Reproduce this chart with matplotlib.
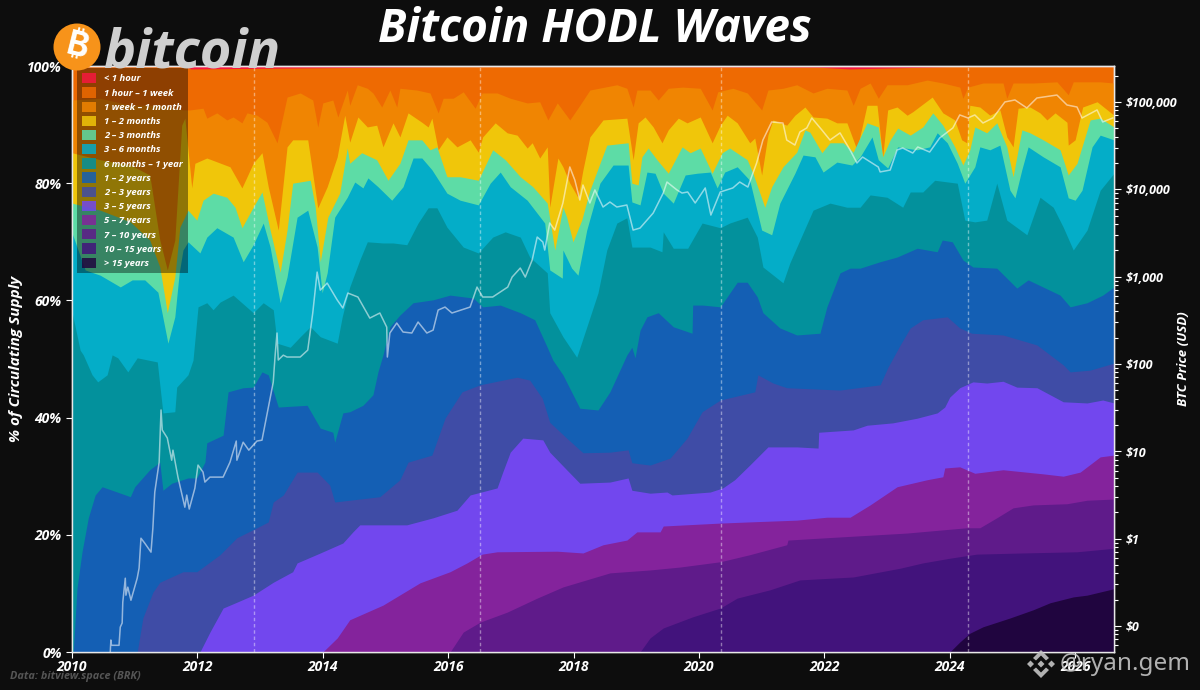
import matplotlib
matplotlib.use('Agg')
import matplotlib.pyplot as plt
from matplotlib.patches import Circle, Patch, Polygon
from matplotlib.ticker import FuncFormatter, LogLocator, NullFormatter

BG = '#0d0d0d'
FONT = 'Open Sans'

# band names and colours, youngest first
band_labels = ['< 1 hour', '1 hour – 1 week', '1 week – 1 month', '1 – 2 months', '2 – 3 months',
               '3 – 6 months', '6 months – 1 year', '1 – 2 years', '2 – 3 years', '3 – 5 years',
               '5 – 7 years', '7 – 10 years', '10 – 15 years', '> 15 years']
band_colors = ['#f5173f', '#ee6a02', '#f08502', '#f0c60a', '#5ddca6', '#04adc8', '#03919c', '#145fb4',
               '#3f4ca6', '#7247ee', '#84239c', '#5f1b8a', '#42137c', '#20053f']

# top edge of each band, as cumulative % of supply, (year, %)
hour_top_x = [2010.00, 2011.80, 2011.90, 2016.00, 2019.00, 2021.90, 2022.40, 2024.00, 2026.62]
hour_top_y = [99.9, 99.9, 99.5, 99.9, 99.9, 99.8, 99.5, 99.9, 99.9]

week_top_x = [2010.00, 2010.45, 2010.93, 2011.40, 2011.77, 2011.88, 2012.09, 2012.15, 2012.31, 2012.47, 2012.57, 2012.71,
              2012.79, 2012.95, 2013.11, 2013.27, 2013.35, 2013.43, 2013.64, 2013.84, 2013.92, 2014.00, 2014.16, 2014.24,
              2014.39, 2014.43, 2014.55, 2014.71, 2014.80, 2014.94, 2015.07, 2015.18, 2015.23, 2015.50, 2015.71, 2015.84,
              2015.92, 2016.08, 2016.24, 2016.43, 2016.54, 2016.78, 2016.99, 2017.26, 2017.46, 2017.59, 2017.74, 2017.94,
              2018.10, 2018.26, 2018.69, 2018.85, 2018.95, 2019.01, 2019.22, 2019.35, 2019.51, 2019.74, 2020.02, 2020.21,
              2020.30, 2020.54, 2020.77, 2021.00, 2021.10, 2021.34, 2021.56, 2021.82, 2022.04, 2022.36, 2022.46, 2022.57,
              2022.73, 2022.86, 2023.00, 2023.32, 2023.64, 2023.89, 2024.16, 2024.21, 2024.29, 2024.53, 2024.85, 2024.91,
              2025.01, 2025.33, 2025.71, 2025.89, 2025.97, 2026.40, 2026.62]
week_top_y = [94.2, 94.5, 93.3, 93.3, 92.5, 92.5, 92.8, 91.1, 92.0, 90.8, 91.3, 90.3,
              92.0, 91.6, 90.4, 86.9, 90.8, 94.7, 95.4, 94.2, 89.6, 93.7, 94.2, 91.3,
              95.9, 93.3, 96.8, 96.2, 95.4, 93.0, 95.9, 93.0, 96.2, 95.9, 95.4, 92.0,
              94.5, 94.5, 95.6, 92.8, 95.4, 95.4, 94.5, 93.7, 93.9, 90.8, 93.7, 90.8,
              93.3, 95.9, 96.8, 96.2, 93.0, 95.9, 95.9, 94.2, 96.2, 96.4, 96.2, 92.5,
              95.6, 96.2, 95.4, 92.5, 95.9, 96.2, 96.8, 95.4, 96.2, 95.9, 93.3, 96.2,
              97.1, 94.5, 96.8, 96.8, 97.6, 97.1, 96.4, 94.5, 96.4, 97.1, 97.1, 94.5,
              97.1, 97.1, 97.3, 95.1, 97.3, 97.3, 97.1]

month_top_x = [2010.00, 2010.45, 2010.93, 2011.24, 2011.40, 2011.52, 2011.64, 2011.75, 2011.80, 2011.91, 2011.96, 2012.15,
               2012.52, 2012.71, 2012.89, 2013.03, 2013.13, 2013.29, 2013.43, 2013.52, 2013.76, 2013.92, 2014.07, 2014.23,
               2014.35, 2014.43, 2014.56, 2014.71, 2014.86, 2014.96, 2015.12, 2015.23, 2015.36, 2015.58, 2015.68, 2015.74,
               2015.84, 2015.98, 2016.14, 2016.35, 2016.48, 2016.55, 2016.75, 2016.94, 2017.10, 2017.26, 2017.34, 2017.46,
               2017.58, 2017.62, 2017.75, 2017.83, 2017.94, 2018.07, 2018.15, 2018.26, 2018.47, 2018.85, 2018.95, 2019.03,
               2019.14, 2019.27, 2019.41, 2019.51, 2019.67, 2019.81, 2020.02, 2020.21, 2020.34, 2020.45, 2020.61, 2020.81,
               2020.89, 2021.00, 2021.10, 2021.18, 2021.40, 2021.53, 2021.69, 2021.82, 2022.04, 2022.20, 2022.36, 2022.52,
               2022.68, 2022.84, 2022.93, 2023.01, 2023.16, 2023.32, 2023.41, 2023.72, 2023.89, 2024.08, 2024.19, 2024.27,
               2024.32, 2024.48, 2024.64, 2024.80, 2024.91, 2025.01, 2025.09, 2025.28, 2025.44, 2025.55, 2025.68, 2025.87,
               2025.89, 2026.00, 2026.12, 2026.35, 2026.62]
month_top_y = [85.2, 84.0, 83.1, 81.4, 70.3, 65.2, 70.3, 89.9, 91.1, 79.2, 83.4, 84.3,
               82.8, 79.2, 83.4, 85.2, 79.4, 72.0, 86.2, 87.4, 87.4, 75.8, 79.4, 84.5,
               91.6, 87.0, 91.3, 89.6, 89.9, 86.2, 90.3, 87.9, 92.0, 90.4, 89.6, 91.1,
               85.7, 87.9, 86.2, 87.4, 85.3, 87.9, 90.3, 88.6, 88.2, 86.0, 86.9, 84.3,
               86.2, 75.9, 84.3, 82.8, 80.0, 77.6, 82.3, 87.9, 90.8, 91.1, 84.0, 90.3,
               91.3, 89.6, 86.9, 89.1, 91.1, 90.3, 91.3, 86.9, 89.9, 91.6, 90.3, 86.9,
               87.7, 81.4, 88.2, 90.8, 89.9, 91.6, 93.0, 91.3, 91.1, 90.3, 90.3, 85.7,
               93.3, 93.3, 84.5, 92.5, 93.0, 91.6, 92.2, 94.7, 92.0, 90.8, 87.4, 86.9,
               93.3, 93.0, 91.6, 92.5, 87.9, 86.2, 92.8, 93.0, 92.0, 90.8, 92.0, 90.4,
               86.5, 87.4, 93.0, 93.9, 91.6]

two_month_top_x = [2010.00, 2010.45, 2010.93, 2011.24, 2011.40, 2011.52, 2011.64, 2011.72, 2011.85, 2011.99, 2012.09, 2012.25,
                   2012.47, 2012.60, 2012.71, 2012.89, 2013.03, 2013.16, 2013.32, 2013.43, 2013.52, 2013.80, 2013.88, 2013.96,
                   2014.08, 2014.27, 2014.39, 2014.43, 2014.62, 2014.86, 2015.04, 2015.23, 2015.36, 2015.58, 2015.71, 2015.82,
                   2015.98, 2016.19, 2016.48, 2016.71, 2016.91, 2017.15, 2017.35, 2017.58, 2017.70, 2017.83, 2017.89, 2017.99,
                   2018.13, 2018.26, 2018.53, 2018.87, 2018.93, 2019.03, 2019.09, 2019.19, 2019.33, 2019.51, 2019.73, 2019.86,
                   2020.02, 2020.21, 2020.37, 2020.49, 2020.77, 2020.86, 2021.05, 2021.16, 2021.34, 2021.56, 2021.69, 2021.77,
                   2021.96, 2022.09, 2022.30, 2022.46, 2022.68, 2022.86, 2022.93, 2023.05, 2023.17, 2023.37, 2023.57, 2023.73,
                   2023.89, 2024.08, 2024.21, 2024.32, 2024.40, 2024.59, 2024.75, 2024.91, 2025.01, 2025.15, 2025.28, 2025.49,
                   2025.76, 2025.89, 2026.03, 2026.24, 2026.40, 2026.62]
two_month_top_y = [76.6, 75.4, 73.4, 70.3, 65.7, 57.9, 64.0, 72.5, 75.4, 73.7, 77.1, 78.3,
                   77.6, 75.9, 72.4, 75.9, 78.5, 72.0, 64.8, 72.0, 80.0, 80.5, 75.9, 66.6,
                   74.2, 78.3, 86.0, 83.4, 85.2, 84.0, 80.5, 83.4, 87.4, 87.4, 85.7, 86.2,
                   81.1, 81.1, 80.5, 85.7, 84.0, 81.1, 79.4, 76.6, 68.6, 75.9, 74.2, 70.0,
                   73.7, 78.8, 86.5, 86.9, 80.0, 79.7, 84.5, 86.0, 84.0, 81.7, 86.2, 85.2,
                   86.0, 81.7, 85.2, 86.0, 84.0, 81.7, 75.9, 79.4, 82.8, 85.3, 89.1, 88.7,
                   85.2, 86.9, 86.9, 85.3, 90.3, 89.6, 84.5, 87.4, 89.4, 88.2, 89.6, 92.0,
                   89.9, 86.2, 83.1, 85.7, 89.6, 88.6, 90.3, 86.2, 81.1, 89.1, 88.6, 87.4,
                   85.7, 81.4, 83.4, 90.8, 91.1, 89.6]

three_month_top_x = [2010.00, 2010.21, 2010.45, 2010.77, 2010.96, 2011.16, 2011.37, 2011.53, 2011.64, 2011.71, 2011.77, 2011.85,
                     2012.04, 2012.15, 2012.31, 2012.57, 2012.73, 2012.89, 2013.05, 2013.16, 2013.32, 2013.43, 2013.59, 2013.76,
                     2013.91, 2013.99, 2014.07, 2014.19, 2014.39, 2014.51, 2014.64, 2014.72, 2014.88, 2015.10, 2015.28, 2015.44,
                     2015.58, 2015.74, 2015.98, 2016.19, 2016.48, 2016.67, 2016.83, 2016.99, 2017.26, 2017.54, 2017.62, 2017.82,
                     2017.83, 2017.97, 2018.07, 2018.21, 2018.42, 2018.63, 2018.87, 2018.93, 2019.06, 2019.17, 2019.30, 2019.43,
                     2019.59, 2019.78, 2019.97, 2020.18, 2020.29, 2020.41, 2020.61, 2020.81, 2021.00, 2021.16, 2021.29, 2021.53,
                     2021.66, 2021.85, 2021.98, 2022.20, 2022.44, 2022.57, 2022.76, 2022.86, 2023.01, 2023.17, 2023.48, 2023.68,
                     2023.80, 2023.96, 2024.12, 2024.24, 2024.40, 2024.48, 2024.64, 2024.80, 2024.96, 2025.04, 2025.15, 2025.25,
                     2025.49, 2025.76, 2025.89, 2026.00, 2026.11, 2026.27, 2026.40, 2026.62]
three_month_top_y = [71.5, 65.2, 64.3, 62.3, 63.5, 63.5, 61.4, 52.7, 57.2, 64.7, 68.6, 70.0,
                     68.1, 70.8, 72.4, 70.8, 66.6, 69.5, 73.2, 69.1, 59.6, 64.0, 74.2, 75.4,
                     69.1, 61.3, 64.7, 74.2, 77.6, 80.2, 79.2, 80.9, 79.4, 77.1, 79.4, 84.3,
                     84.3, 82.3, 78.3, 77.1, 76.3, 80.0, 81.9, 79.4, 77.1, 73.2, 65.2, 63.8,
                     68.6, 65.5, 64.3, 72.0, 80.0, 83.1, 83.1, 76.8, 76.3, 81.9, 81.7, 78.3,
                     76.6, 81.4, 81.7, 81.9, 79.2, 81.9, 82.8, 80.5, 72.0, 71.2, 76.6, 81.7,
                     84.8, 84.5, 81.9, 83.6, 83.1, 84.5, 87.9, 84.0, 82.6, 86.2, 85.7, 86.2,
                     88.6, 86.9, 83.4, 80.0, 82.8, 86.2, 85.7, 86.5, 78.8, 77.5, 82.3, 86.2,
                     84.5, 82.8, 77.5, 77.1, 78.8, 86.2, 88.2, 87.4]

six_month_top_x = [2010.00, 2010.13, 2010.18, 2010.32, 2010.41, 2010.56, 2010.64, 2010.73, 2010.89, 2011.04, 2011.36, 2011.45,
                   2011.64, 2011.67, 2011.85, 2011.93, 2012.01, 2012.15, 2012.25, 2012.36, 2012.57, 2012.89, 2013.05, 2013.21,
                   2013.27, 2013.48, 2013.64, 2013.80, 2013.96, 2014.23, 2014.31, 2014.43, 2014.59, 2014.71, 2014.96, 2015.12,
                   2015.34, 2015.52, 2015.68, 2015.82, 2015.98, 2016.24, 2016.48, 2016.71, 2016.91, 2017.15, 2017.30, 2017.58,
                   2017.62, 2017.83, 2018.05, 2018.23, 2018.39, 2018.53, 2018.69, 2018.85, 2018.93, 2019.22, 2019.41, 2019.43,
                   2019.59, 2019.82, 2020.05, 2020.34, 2020.49, 2020.77, 2020.93, 2021.02, 2021.34, 2021.45, 2021.61, 2021.82,
                   2022.09, 2022.36, 2022.57, 2022.73, 2023.00, 2023.25, 2023.37, 2023.57, 2023.76, 2024.12, 2024.24, 2024.40,
                   2024.59, 2024.75, 2024.91, 2025.23, 2025.44, 2025.65, 2025.81, 2025.97, 2026.19, 2026.40, 2026.62]
six_month_top_y = [58.0, 51.5, 50.7, 47.3, 46.1, 47.3, 50.7, 50.2, 47.8, 50.2, 49.5, 40.8,
                   41.0, 45.2, 47.3, 49.8, 58.9, 59.6, 58.4, 59.7, 60.9, 57.9, 59.6, 58.4,
                   52.7, 52.0, 53.8, 55.5, 53.8, 52.7, 57.2, 62.3, 66.9, 70.0, 69.8, 69.8,
                   69.5, 73.2, 75.8, 75.8, 72.5, 69.1, 68.1, 70.8, 71.7, 70.8, 67.4, 64.7,
                   57.9, 53.8, 50.3, 56.1, 61.3, 68.6, 73.2, 74.1, 69.1, 69.1, 68.3, 71.7,
                   68.9, 68.9, 73.2, 72.4, 73.2, 74.2, 70.8, 65.7, 63.0, 66.4, 70.3, 75.4,
                   76.6, 75.9, 75.9, 78.0, 77.6, 75.9, 78.5, 78.5, 80.5, 80.0, 73.7, 73.4,
                   73.7, 80.0, 73.7, 71.2, 77.6, 75.9, 72.5, 68.6, 72.0, 78.8, 81.7]

year_top_x = [2010.02, 2010.08, 2010.16, 2010.26, 2010.37, 2010.48, 2010.72, 2010.93, 2011.00, 2011.24, 2011.40, 2011.45,
              2011.59, 2011.85, 2011.99, 2012.12, 2012.15, 2012.41, 2012.49, 2012.73, 2012.89, 2013.03, 2013.13, 2013.29,
              2013.75, 2013.96, 2014.16, 2014.19, 2014.32, 2014.43, 2014.64, 2014.80, 2014.88, 2014.96, 2015.07, 2015.23,
              2015.44, 2015.76, 2016.03, 2016.40, 2016.55, 2016.83, 2017.15, 2017.38, 2017.58, 2017.67, 2017.83, 2018.10,
              2018.39, 2018.58, 2018.85, 2018.93, 2018.98, 2019.06, 2019.17, 2019.35, 2019.59, 2019.89, 2019.90, 2020.06,
              2020.34, 2020.61, 2020.77, 2020.93, 2021.02, 2021.29, 2021.56, 2021.93, 2022.04, 2022.25, 2022.41, 2022.57,
              2022.89, 2023.16, 2023.48, 2023.80, 2023.88, 2024.04, 2024.21, 2024.37, 2024.75, 2025.07, 2025.25, 2025.76,
              2025.92, 2026.19, 2026.44, 2026.62]
year_top_y = [0.0, 10.9, 17.1, 22.9, 26.8, 28.2, 27.3, 26.5, 28.2, 31.1, 32.4, 27.6,
              28.8, 29.7, 29.7, 32.4, 35.7, 37.0, 44.4, 45.1, 45.2, 47.8, 47.3, 41.8,
              42.1, 38.2, 37.5, 35.8, 40.8, 41.0, 42.1, 43.9, 47.8, 50.7, 55.5, 57.5,
              59.6, 60.1, 60.9, 60.4, 58.9, 59.2, 57.9, 56.7, 52.0, 49.8, 47.3, 41.6,
              41.3, 44.4, 50.7, 52.0, 50.2, 54.9, 57.2, 57.9, 55.5, 54.4, 59.2, 59.2,
              58.9, 63.1, 63.1, 60.6, 57.9, 55.3, 54.1, 54.4, 58.9, 64.7, 65.5, 65.5,
              66.6, 67.4, 68.9, 68.3, 70.3, 70.0, 66.9, 65.7, 65.5, 62.1, 63.5, 60.9,
              58.9, 59.6, 60.9, 62.3]

two_year_top_x = [2011.04, 2011.13, 2011.29, 2011.40, 2011.77, 2011.99, 2012.36, 2012.63, 2012.95, 2013.13, 2013.21, 2013.37,
                  2013.59, 2013.91, 2014.11, 2014.19, 2014.43, 2014.91, 2015.23, 2015.36, 2015.74, 2015.95, 2016.22, 2016.51,
                  2017.10, 2017.30, 2017.50, 2017.62, 2017.89, 2018.15, 2018.58, 2018.87, 2018.93, 2019.22, 2019.54, 2019.81,
                  2020.05, 2020.34, 2020.89, 2020.94, 2021.18, 2021.40, 2022.25, 2022.89, 2023.01, 2023.21, 2023.37, 2023.57,
                  2023.96, 2024.16, 2024.35, 2024.85, 2025.39, 2025.81, 2025.92, 2026.24, 2026.62]
two_year_top_y = [0.0, 5.8, 10.2, 11.9, 13.7, 13.7, 16.6, 19.5, 21.2, 22.2, 25.6, 26.8,
                  30.7, 30.7, 28.5, 25.6, 25.9, 26.5, 29.4, 32.4, 33.6, 39.9, 44.4, 45.6,
                  46.9, 46.4, 43.3, 39.2, 36.5, 34.0, 34.1, 34.5, 32.3, 31.9, 33.1, 36.5,
                  41.0, 43.0, 44.4, 47.3, 45.9, 45.1, 44.7, 45.6, 48.5, 52.4, 55.3, 56.7,
                  57.2, 55.3, 54.4, 54.1, 52.4, 49.0, 47.8, 48.1, 49.3]

three_year_top_x = [2012.04, 2012.20, 2012.41, 2012.63, 2012.89, 2013.21, 2013.52, 2013.59, 2013.96, 2014.32, 2014.48, 2014.59,
                    2015.34, 2015.76, 2016.14, 2016.35, 2016.78, 2016.87, 2016.99, 2017.19, 2017.51, 2017.62, 2017.89, 2018.10,
                    2018.58, 2018.87, 2018.93, 2019.22, 2019.49, 2019.57, 2020.18, 2020.38, 2020.57, 2020.81, 2021.10, 2021.56,
                    2021.90, 2021.91, 2022.46, 2022.68, 2023.09, 2023.48, 2023.80, 2023.92, 2024.00, 2024.16, 2024.37, 2024.59,
                    2024.85, 2025.07, 2025.39, 2025.81, 2026.19, 2026.44, 2026.62]
three_year_top_y = [0.0, 3.4, 7.5, 8.5, 9.7, 11.9, 13.7, 15.2, 16.9, 18.6, 20.5, 21.7,
                    21.7, 22.9, 24.2, 26.8, 28.0, 30.7, 34.1, 36.5, 36.2, 34.1, 31.1, 28.8,
                    29.0, 29.7, 27.6, 27.1, 27.3, 26.8, 27.3, 28.0, 29.4, 31.9, 35.0, 35.0,
                    34.8, 37.5, 37.9, 38.7, 39.1, 39.9, 40.8, 41.8, 43.5, 45.1, 46.1, 45.9,
                    46.2, 45.2, 45.1, 42.7, 42.5, 43.0, 42.5]

five_year_top_x = [2014.00, 2014.23, 2014.43, 2014.96, 2015.55, 2016.03, 2016.30, 2016.54, 2016.78, 2017.74, 2018.15, 2018.47,
                   2018.85, 2019.01, 2019.38, 2019.43, 2020.34, 2020.81, 2021.56, 2022.04, 2022.41, 2022.73, 2023.16, 2023.64,
                   2023.89, 2023.92, 2024.16, 2024.40, 2024.85, 2025.49, 2025.81, 2026.08, 2026.40, 2026.62]
five_year_top_y = [0.0, 2.4, 5.5, 8.0, 11.8, 13.7, 15.2, 16.7, 17.1, 17.2, 16.9, 18.3,
                   19.1, 20.5, 20.5, 21.5, 22.0, 22.2, 22.5, 23.0, 23.0, 25.1, 28.2, 29.4,
                   29.9, 31.4, 31.6, 30.5, 31.1, 30.4, 30.0, 30.7, 33.3, 33.6]

seven_year_top_x = [2016.03, 2016.24, 2016.51, 2016.94, 2017.42, 2017.83, 2018.58, 2019.22, 2019.70, 2020.34, 2020.81, 2021.40,
                    2021.42, 2022.04, 2023.32, 2024.27, 2024.48, 2024.75, 2025.01, 2025.33, 2025.87, 2026.19, 2026.62]
seven_year_top_y = [0.0, 3.4, 5.1, 6.8, 9.2, 11.1, 13.5, 14.0, 14.5, 15.4, 16.6, 18.3,
                    19.1, 19.5, 20.3, 21.2, 21.2, 22.9, 24.6, 25.1, 25.3, 25.9, 26.1]

ten_year_top_x = [2019.06, 2019.22, 2019.43, 2019.90, 2020.34, 2020.61, 2021.13, 2021.61, 2022.46, 2023.21, 2023.57, 2024.00,
                  2024.43, 2025.17, 2026.03, 2026.62]
ten_year_top_y = [0.0, 2.4, 4.1, 6.0, 7.5, 9.2, 10.6, 12.3, 12.8, 14.3, 15.2, 16.0,
                  16.7, 16.9, 17.1, 17.7]

fifteen_year_top_x = [2024.00, 2024.16, 2024.32, 2024.53, 2024.96, 2025.33, 2025.60, 2025.97, 2026.19, 2026.62]
fifteen_year_top_y = [0.0, 1.7, 3.2, 4.3, 5.8, 7.2, 8.4, 9.4, 9.7, 10.8]

# BTC price in USD
price_x = [2010.61, 2010.62, 2010.63, 2010.75, 2010.77, 2010.80, 2010.81, 2010.85, 2010.86, 2010.89, 2010.94, 2011.04,
           2011.07, 2011.10, 2011.16, 2011.26, 2011.29, 2011.32, 2011.39, 2011.42, 2011.44, 2011.52, 2011.59, 2011.61,
           2011.69, 2011.80, 2011.83, 2011.87, 2011.96, 2012.01, 2012.09, 2012.12, 2012.20, 2012.41, 2012.52, 2012.62,
           2012.63, 2012.73, 2012.82, 2012.95, 2013.03, 2013.13, 2013.21, 2013.24, 2013.27, 2013.29, 2013.37, 2013.43,
           2013.64, 2013.76, 2013.84, 2013.91, 2013.96, 2014.07, 2014.23, 2014.32, 2014.40, 2014.56, 2014.75, 2014.91,
           2015.02, 2015.03, 2015.07, 2015.18, 2015.28, 2015.42, 2015.52, 2015.66, 2015.76, 2015.84, 2015.95, 2016.06,
           2016.35, 2016.46, 2016.55, 2016.71, 2016.95, 2017.02, 2017.15, 2017.23, 2017.34, 2017.42, 2017.51, 2017.54,
           2017.62, 2017.70, 2017.83, 2017.94, 2018.02, 2018.10, 2018.15, 2018.26, 2018.34, 2018.47, 2018.58, 2018.69,
           2018.85, 2018.95, 2019.06, 2019.27, 2019.43, 2019.49, 2019.65, 2019.73, 2019.82, 2019.94, 2020.10, 2020.19,
           2020.34, 2020.54, 2020.65, 2020.78, 2020.92, 2021.02, 2021.16, 2021.34, 2021.40, 2021.53, 2021.61, 2021.72,
           2021.80, 2021.96, 2022.09, 2022.25, 2022.41, 2022.52, 2022.61, 2022.86, 2022.89, 2023.05, 2023.16, 2023.25,
           2023.41, 2023.49, 2023.68, 2023.84, 2024.05, 2024.16, 2024.29, 2024.40, 2024.53, 2024.69, 2024.88, 2025.04,
           2025.23, 2025.39, 2025.71, 2025.87, 2026.03, 2026.11, 2026.35, 2026.44, 2026.60]
price_y = [0.05, 0.069, 0.06, 0.06, 0.097, 0.108, 0.187, 0.352, 0.225, 0.278, 0.197, 0.352,
           0.459, 1.01, 0.887, 0.70, 1.32, 3.40, 7.5, 29.7, 17.5, 14.2, 7.9, 10.3,
           5.06, 2.29, 3.15, 2.18, 3.78, 6.95, 5.77, 4.44, 5.06, 5.06, 7.5, 13.1,
           7.9, 12.7, 10.3, 13.1, 13.4, 31.2, 61.9, 126, 226, 111, 126, 120,
           120, 144, 383, 1127, 701, 843, 540, 437, 648, 584, 335, 383,
           264, 120, 226, 294, 232, 226, 302, 226, 244, 414, 448, 383,
           448, 759, 584, 584, 759, 988, 1253, 988, 1549, 2838, 2489, 2014,
           4111, 3412, 6966, 17990, 12760, 7534, 11190, 6966, 9817, 6266, 7145, 6266,
           6607, 3412, 3597, 5346, 9057, 12110, 9817, 9057, 9311, 6966, 10350, 5070,
           9311, 10350, 12110, 10610, 20000, 36640, 59000, 57400, 36640, 32100, 45300, 50400,
           65500, 47800, 36640, 44200, 28200, 20000, 23400, 18000, 15800, 16600, 28200, 29700,
           26000, 30500, 26700, 38700, 50400, 71000, 65500, 71000, 57400, 65500, 100000, 105400,
           85300, 111000, 120000, 92300, 87500, 65500, 81000, 59000, 65500]

halving_years = [2012.90, 2016.51, 2020.35, 2024.29]
price_ticks = [0.1, 1, 10, 100, 1000, 10000, 100000]

band_tops = [(hour_top_x, hour_top_y), (week_top_x, week_top_y), (month_top_x, month_top_y),
             (two_month_top_x, two_month_top_y), (three_month_top_x, three_month_top_y),
             (six_month_top_x, six_month_top_y), (year_top_x, year_top_y), (two_year_top_x, two_year_top_y),
             (three_year_top_x, three_year_top_y), (five_year_top_x, five_year_top_y),
             (seven_year_top_x, seven_year_top_y), (ten_year_top_x, ten_year_top_y),
             (fifteen_year_top_x, fifteen_year_top_y)]

plt.rcParams['font.family'] = [FONT, 'DejaVu Sans']
fig = plt.figure(figsize=(12, 6.9), dpi=100, facecolor=BG)
ax = fig.add_axes([72 / 1200, 38 / 690, 1042 / 1200, 586 / 690], facecolor=BG)

# whole range first for the red sliver, then paint older cohorts over it
ax.fill_between([2010.00, 2026.62], 0, 100, color=band_colors[0], lw=0, zorder=1)
for i, (xs, ys) in enumerate(band_tops):
    ax.fill_between(xs, 0, ys, color=band_colors[i + 1], lw=0, zorder=2 + i)

ax.set_xlim(2010, 2026.62)
ax.set_ylim(0, 100)
ax.set_xticks(range(2010, 2027, 2))
ax.set_xticklabels([str(y) for y in range(2010, 2027, 2)])
ax.set_yticks(range(0, 101, 20))
ax.set_yticklabels([f'{v}%' for v in range(0, 101, 20)])
ax.grid(axis='y', color='white', alpha=0.07, lw=0.8, zorder=20)
ax.set_axisbelow(False)
for h in halving_years:
    ax.axvline(h, color='white', alpha=0.42, lw=1, ls=(0, (2.5, 2)), zorder=21)
ax.set_ylabel('% of Circulating Supply', color='white', fontsize=11, fontweight='bold', style='italic')
ax.yaxis.set_label_coords(-0.047, 0.5)

ax2 = ax.twinx()
ax2.set_yscale('log')
ax2.set_ylim(0.0503, 258000)
ax2.plot(price_x, price_y, color='white', alpha=0.55, lw=1.1)
ax2.set_yticks(price_ticks)
ax2.yaxis.set_major_formatter(FuncFormatter(lambda v, _: f'${v:,.0f}'))
ax2.yaxis.set_minor_locator(LogLocator(base=10, subs=range(2, 10), numticks=12))
ax2.yaxis.set_minor_formatter(NullFormatter())
ax2.set_ylabel('BTC Price (USD)', color='white', fontsize=9.5, fontweight='bold', style='italic')
ax2.yaxis.set_label_coords(1.06, 0.5)

for a in (ax, ax2):
    a.tick_params(which='both', colors='white', width=0.8)
    for s in a.spines.values():
        s.set_color('#e8e8e8')
        s.set_linewidth(1)
for lab in ax.get_xticklabels() + ax.get_yticklabels():
    lab.set_fontweight('bold')
    lab.set_fontstyle('italic')
    lab.set_fontsize(10)
for lab in ax2.get_yticklabels():
    lab.set_fontweight('bold')
    lab.set_fontstyle('italic')
    lab.set_fontsize(9)
ax.tick_params(axis='both', length=4)
ax.tick_params(axis='x', pad=2)
ax2.tick_params(axis='y', which='major', length=5)
ax2.tick_params(axis='y', which='minor', length=3)

handles = [Patch(facecolor=c, edgecolor='none', alpha=0.85) for c in band_colors]
leg = ax2.legend(handles, band_labels, loc='upper left', bbox_to_anchor=(0.0048, 0.9966), borderaxespad=0,
                 prop={'family': FONT, 'weight': 'bold', 'style': 'italic', 'size': 6.8},
                 facecolor='black', framealpha=0.4, edgecolor='none', fancybox=False,
                 labelspacing=0.41, handlelength=1.45, handleheight=1.3, handletextpad=0.85,
                 borderpad=0.55)
for t in leg.get_texts():
    t.set_color('white')
leg.set_zorder(30)

# overlay in figure pixels: title, logo, watermark
over = fig.add_axes([0, 0, 1, 1], facecolor='none')
over.set_xlim(0, 1200)
over.set_ylim(690, 0)
over.axis('off')
over.text(595, 30, 'Bitcoin HODL Waves', color='white', fontsize=33, fontweight='bold', style='italic',
          ha='center', va='center')
over.add_patch(Circle((77, 47), 23.5, color='#f7931a', lw=0))
over.text(77, 47, '₿', color='white', fontsize=24, fontweight='bold', family=['Inter', 'Noto Sans', 'Roboto', 'Lato', 'DejaVu Sans'],
          rotation=-14, ha='center', va='center')
over.text(191.5, 54, 'bitcoin', color='#cfcfcf', fontsize=39, fontweight='bold', style='italic',
          ha='center', va='center')
over.text(10, 677, 'Data: bitview.space (BRK)', color='#555555', fontsize=7.8, fontweight='bold', style='italic',
          ha='left', va='center')

# exchange mark next to the handle
cx, cy, wm = 1041, 664, '#c4c4c4'
diamonds = [(0, 0, 3.5), (-10.5, 0, 3.5), (10.5, 0, 3.5)]
for dx, dy, r in diamonds:
    over.add_patch(Polygon([(cx + dx - r, cy + dy), (cx + dx, cy + dy - r), (cx + dx + r, cy + dy), (cx + dx, cy + dy + r)],
                           color=wm, lw=0, alpha=0.9))
for sign in (-1, 1):
    over.add_patch(Polygon([(cx - 8, cy + sign * 6), (cx, cy + sign * 14), (cx + 8, cy + sign * 6), (cx + 5, cy + sign * 3.5),
                            (cx, cy + sign * 8.5), (cx - 5, cy + sign * 3.5)], color=wm, lw=0, alpha=0.9))
over.text(1060, 664, '@ryan.gem', color=wm, fontsize=17.5, family='Noto Sans', ha='left', va='center', alpha=0.9)

fig.savefig('out.png', dpi=100, facecolor=BG)
